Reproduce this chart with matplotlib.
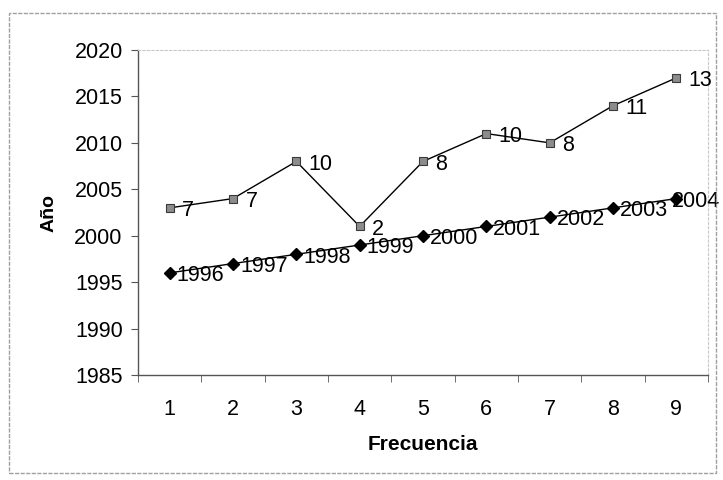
import matplotlib.pyplot as plt
import numpy as np
from matplotlib.patches import Rectangle

# --- Data ---
frecuencia = [1, 2, 3, 4, 5, 6, 7, 8, 9]
anio_alto = [2003, 2004, 2008, 2001, 2008, 2011, 2010, 2014, 2017]
etiquetas_alto = ['7', '7', '10', '2', '8', '10', '8', '11', '13']
anio_bajo = [1996, 1997, 1998, 1999, 2000, 2001, 2002, 2003, 2004]
etiquetas_bajo = ['1996', '1997', '1998', '1999', '2000', '2001', '2002', '2003', '2004']

plt.rcParams['font.family'] = ['Liberation Sans', 'DejaVu Sans']

fig = plt.figure(figsize=(7.23, 4.8), dpi=100)
W, H = 723, 480
# axes placed in pixel coords: left 138, right 708, top 50, bottom 375
ax = fig.add_axes([138 / W, 1 - 375 / H, (708 - 138) / W, (375 - 50) / H])

# outer chart frame
fig.patches.append(Rectangle((9 / W, 1 - 473 / H), (716 - 9) / W, (473 - 13) / H,
                             transform=fig.transFigure, fill=False,
                             edgecolor='#a0a0a0', linewidth=1.0,
                             linestyle=(0, (3, 1))))

ax.plot(frecuencia, anio_alto, color='black', linewidth=1.0, marker='s',
        markersize=6, markerfacecolor='#8c8c8c', markeredgecolor='#3a3a3a',
        markeredgewidth=0.8, zorder=3)
ax.plot(frecuencia, anio_bajo, color='black', linewidth=1.0, marker='D',
        markersize=6.5, markerfacecolor='black', markeredgecolor='black', zorder=3)

for x, y, t in zip(frecuencia, anio_alto, etiquetas_alto):
    ax.annotate(t, (x, y), xytext=(9, -2), textcoords='offset points',
                ha='left', va='center', fontsize=15.5, zorder=4)
for i, (x, y, t) in enumerate(zip(frecuencia, anio_bajo, etiquetas_bajo)):
    # last label is pushed back inside the chart area, as in the original
    dx = 5 if i < len(frecuencia) - 1 else -3
    ax.annotate(t, (x, y), xytext=(dx, -2), textcoords='offset points',
                ha='left', va='center', fontsize=15.5, zorder=4, annotation_clip=False)

ax.set_xlim(0.5, 9.5)
ax.set_ylim(1985, 2020)
ax.set_yticks(np.arange(1985, 2021, 5))
ax.set_xticks(frecuencia)
ax.set_xticks(np.arange(0.5, 9.6, 1), minor=True)
ax.tick_params(axis='x', which='major', length=0, pad=17, labelsize=15.5)
ax.tick_params(axis='x', which='minor', length=5, direction='out', color='#555555')
ax.tick_params(axis='y', length=5, direction='out', pad=6, labelsize=15.5, color='#555555')

for side in ['top', 'right']:
    ax.spines[side].set_color('#c8c8c8')
    ax.spines[side].set_linestyle((0, (2, 2)))
    ax.spines[side].set_linewidth(0.8)
for side in ['left', 'bottom']:
    ax.spines[side].set_color('#555555')
    ax.spines[side].set_linewidth(1.0)

ax.set_xlabel('Frecuencia', fontsize=15, fontweight='bold', labelpad=11)
ax.set_ylabel('Año', fontsize=14, fontweight='bold', labelpad=12)

fig.savefig('out.png', dpi=100)
